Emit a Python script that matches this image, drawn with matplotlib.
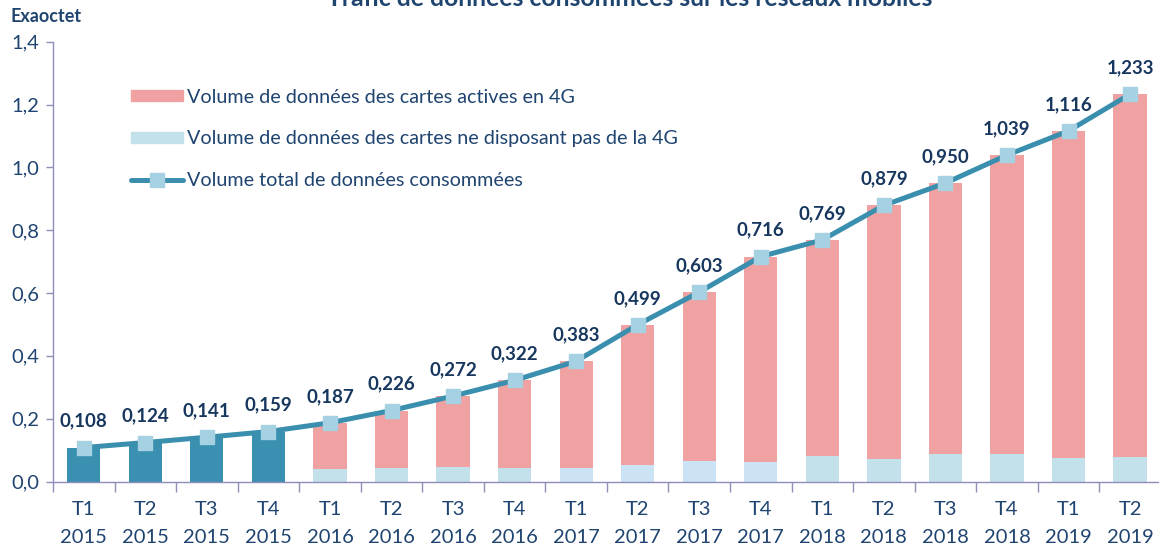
import matplotlib
matplotlib.use("Agg")
import matplotlib.pyplot as plt
from matplotlib.lines import Line2D
from matplotlib.patches import Patch
import numpy as np

plt.rcParams['font.family'] = ['Lato', 'DejaVu Sans']

quarters = ["T1", "T2", "T3", "T4", "T1", "T2", "T3", "T4", "T1", "T2", "T3", "T4",
            "T1", "T2", "T3", "T4", "T1", "T2"]
years = ["2015"] * 4 + ["2016"] * 4 + ["2017"] * 4 + ["2018"] * 4 + ["2019"] * 2
total = [0.108, 0.124, 0.141, 0.159, 0.187, 0.226, 0.272, 0.322, 0.383, 0.499,
         0.603, 0.716, 0.769, 0.879, 0.950, 1.039, 1.116, 1.233]
# non-4G volume (2016 onwards); 2015 has only the total
non4g = [None, None, None, None, 0.041, 0.044, 0.047, 0.044, 0.043, 0.052,
         0.064, 0.062, 0.082, 0.073, 0.089, 0.086, 0.075, 0.079]
labels_fmt = [f"{v:.3f}".replace(".", ",") for v in total]

C_DARK = "#3A90B0"
C_LINE = "#3A8FAE"
C_MARK = "#A6D1E2"
C_RED = "#F0A2A2"
C_LB = "#C3E1EA"
C_LB17 = "#CCE3F6"
C_TXT = "#1F4470"
C_LBL = "#17375E"
C_AX = "#8E8EB8"

fig = plt.figure(figsize=(11.59, 5.51), dpi=100)
ax = fig.add_axes([53 / 1159, (551 - 481.5) / 551, 1 - 53 / 1159, (481.5 - 41.7) / 551])

x = np.arange(len(total))
w = 0.54
for i in range(len(total)):
    if non4g[i] is None:
        ax.bar(x[i], total[i], width=w, color=C_DARK, zorder=2)
    else:
        lb = C_LB17 if years[i] == "2017" else C_LB
        ax.bar(x[i], non4g[i], width=w, color=lb, zorder=2)
        ax.bar(x[i], total[i] - non4g[i], bottom=non4g[i], width=w, color=C_RED, zorder=2)

ax.plot(x, total, color=C_LINE, lw=3.6, marker="s", ms=10, mfc=C_MARK, mec=C_MARK,
        zorder=4, solid_capstyle="round")

for i, (v, t) in enumerate(zip(total, labels_fmt)):
    ax.annotate(t, (x[i], v), xytext=(0, 19), textcoords="offset points",
                ha="center", va="center", fontsize=13.5, fontweight="bold",
                color=C_LBL, zorder=5)

ax.set_xlim(-0.5, 17.47)
ax.set_ylim(0, 1.4)
ax.set_yticks(np.arange(0, 1.41, 0.2))
ax.set_yticklabels([f"{v:.1f}".replace(".", ",") for v in np.arange(0, 1.41, 0.2)])
ax.set_xticks(x)
ax.set_xticklabels([f"{q}\n{y}" for q, y in zip(quarters, years)], linespacing=1.8)
ax.set_xticks(np.arange(-0.5, 17.5, 1.0), minor=True)

for s in ["top", "right"]:
    ax.spines[s].set_visible(False)
for s in ["left", "bottom"]:
    ax.spines[s].set_color(C_AX)
    ax.spines[s].set_linewidth(1.0)

ax.tick_params(axis="x", which="major", length=0, pad=14, labelsize=14.5, labelcolor=C_TXT)
ax.tick_params(axis="x", which="minor", length=7, color=C_AX, width=1.0, direction="out")
ax.tick_params(axis="y", which="major", length=5, color=C_AX, width=1.0, pad=5,
               labelsize=14.5, labelcolor=C_TXT)

handles = [Patch(color=C_RED), Patch(color=C_LB),
           Line2D([], [], color=C_LINE, lw=3.6, marker="s", ms=10, mfc=C_MARK, mec=C_MARK,
                  solid_capstyle="round")]
leg_labels = ["Volume de données des cartes actives en 4G",
              "Volume de données des cartes ne disposant pas de la 4G",
              "Volume total de données consommées"]
leg = ax.legend(handles, leg_labels, loc="upper left", bbox_to_anchor=(0.0636, 0.911),
                frameon=False, fontsize=14.2, handlelength=2.65, handleheight=0.5,
                handletextpad=0.2, labelspacing=1.25, borderaxespad=0)
for t in leg.get_texts():
    t.set_color(C_TXT)

fig.text(630 / 1159, 1 - 6 / 551, "Trafic de données consommées sur les réseaux mobiles",
         ha="center", va="baseline", fontsize=17.8, fontweight="bold", color=C_TXT)
fig.text(11 / 1159, 1 - 17 / 551, "Exaoctet", ha="left", va="center",
         fontsize=13, fontweight="bold", color=C_TXT)

fig.savefig("out.png", dpi=100)
